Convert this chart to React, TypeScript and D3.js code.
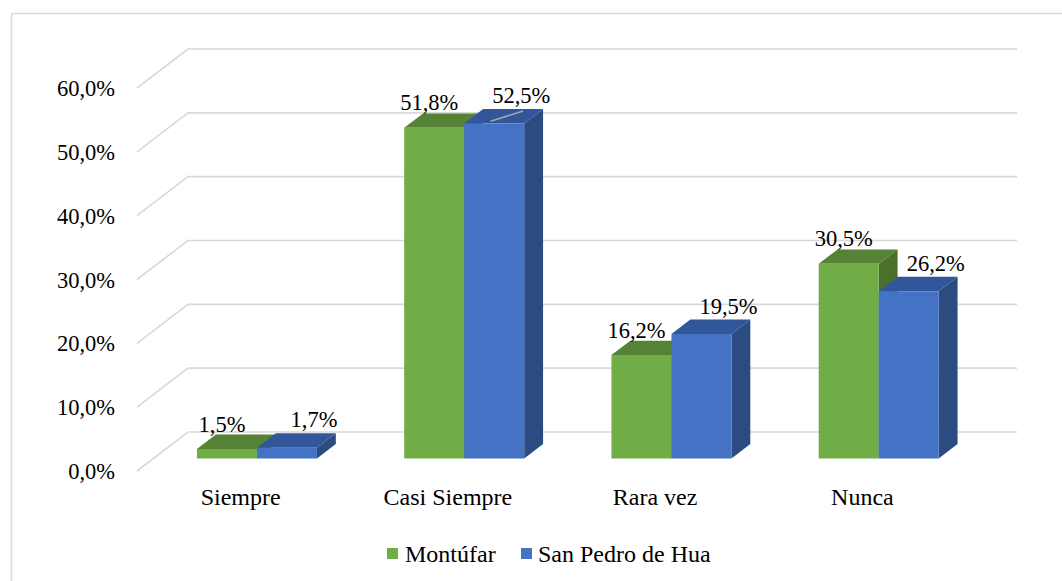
import React from "react";
import * as d3 from "d3";

const categories = ["Siempre", "Casi Siempre", "Rara vez", "Nunca"];
const seriesNames = ["Montúfar", "San Pedro de Hua"];
const montufar = [1.5, 51.8, 16.2, 30.5];
const sanPedro = [1.7, 52.5, 19.5, 26.2];
const yTicks = [0, 10, 20, 30, 40, 50, 60];

const W = 1062;
const H = 581;
const serifStyle = { fontFamily: '"Liberation Serif"' };
const NUM_SIZE = 22.5;
const TXT_SIZE = 24;

const colors = [
  { front: "#70AD47", top: "#568235", side: "#4B7029" },
  { front: "#4472C4", top: "#31579A", side: "#2C4B80" },
];

export default function App() {
  const plotLeft = 137;
  const plotRight = 966;
  const depthDx = 51;
  const depthDy = -39;
  const d0 = 0.32;
  const d1 = 0.69;

  const x = d3.scaleBand<string>().domain(categories).range([plotLeft, plotRight]).padding(0);
  const bw = x.bandwidth();
  const groupW = 120;
  const xs = d3
    .scaleBand<string>()
    .domain(seriesNames)
    .range([(bw - groupW) / 2, (bw + groupW) / 2])
    .padding(0);
  const y = d3.scaleLinear().domain([0, 60]).range([471, 88]);

  const proj = (px: number, py: number, d: number): [number, number] => [
    px + depthDx * d,
    py + depthDy * d,
  ];
  const pts = (arr: [number, number][]) => arr.map((p) => p.join(",")).join(" ");

  const data = [montufar, sanPedro];

  const bars: React.ReactNode[] = [];
  const labels: React.ReactNode[] = [];
  categories.forEach((c, ci) => {
    seriesNames.forEach((s, si) => {
      const v = data[si][ci];
      const xl = (x(c) as number) + (xs(s) as number);
      const xr = xl + xs.bandwidth();
      const yb = y(0);
      const yt = y(v);
      const fbl = proj(xl, yb, d0);
      const fbr = proj(xr, yb, d0);
      const ftl = proj(xl, yt, d0);
      const ftr = proj(xr, yt, d0);
      const btl = proj(xl, yt, d1);
      const btr = proj(xr, yt, d1);
      const bbr = proj(xr, yb, d1);
      const col = colors[si];
      bars.push(
        <g key={`b-${ci}-${si}`}>
          <polygon points={pts([fbr, ftr, btr, bbr])} fill={col.side} />
          <polygon points={pts([ftl, ftr, btr, btl])} fill={col.top} />
          <polygon points={pts([fbl, fbr, ftr, ftl])} fill={col.front} />
        </g>
      );
      const frontCenter = (ftl[0] + ftr[0]) / 2;
      const topBack = btl[1];
      const lx = si === 0 ? frontCenter - 5 : frontCenter + 27;
      const ly = si === 0 ? topBack - 3 : topBack - 6;
      const txt = `${v.toFixed(1).replace(".", ",")}%`;
      if (si === 1 && ci === 1) {
        const topCx = (ftl[0] + ftr[0] + btl[0] + btr[0]) / 4;
        const topCy = (ftl[1] + btl[1]) / 2 + 1;
        labels.push(
          <line
            key={`ll-${ci}-${si}`}
            x1={topCx - 13}
            y1={topCy + 4}
            x2={lx + 2}
            y2={ly + 8}
            stroke="#A6A6A6"
            strokeWidth={1.5}
          />
        );
      }
      labels.push(
        <text
          key={`l-${ci}-${si}`}
          x={lx}
          y={ly}
          textAnchor="middle"
          fontSize={NUM_SIZE}
          style={serifStyle}
          fill="#000"
        >
          {txt}
        </text>
      );
    });
  });

  return (
    <div style={{ position: "fixed", left: 0, top: 0 }}>
      <svg width={W} height={H} style={{ display: "block", background: "#fff" }}>
        <rect x={11.5} y={13.5} width={W + 10} height={H + 10} fill="#fff" stroke="#D9D9D9" strokeWidth={1.5} />
        {yTicks.map((t) => {
          const [fx, fy] = [plotLeft, y(t)];
          const [bx, by] = proj(plotLeft, y(t), 1);
          const [ex] = proj(plotRight, y(t), 1);
          return (
            <g key={`g-${t}`}>
              <polyline
                points={pts([[fx, fy], [bx, by], [ex, by]])}
                fill="none"
                stroke="#D9D9D9"
                strokeWidth={1.6}
              />
              <text x={115} y={fy + 8} textAnchor="end" fontSize={NUM_SIZE} style={serifStyle} fill="#000">
                {`${t.toFixed(1).replace(".", ",")}%`}
              </text>
            </g>
          );
        })}
        {bars}
        {labels}
        {categories.map((c) => (
          <text
            key={`c-${c}`}
            x={(x(c) as number) + bw / 2}
            y={505}
            textAnchor="middle"
            fontSize={TXT_SIZE}
            style={serifStyle}
            fill="#000"
          >
            {c}
          </text>
        ))}
        <g>
          <rect x={387} y={548} width={11} height={11} fill={colors[0].front} />
          <text x={405} y={562} fontSize={TXT_SIZE} style={serifStyle} fill="#000">
            {seriesNames[0]}
          </text>
          <rect x={521} y={548} width={11} height={11} fill={colors[1].front} />
          <text x={538} y={562} fontSize={TXT_SIZE} style={serifStyle} fill="#000">
            {seriesNames[1]}
          </text>
        </g>
      </svg>
    </div>
  );
}
